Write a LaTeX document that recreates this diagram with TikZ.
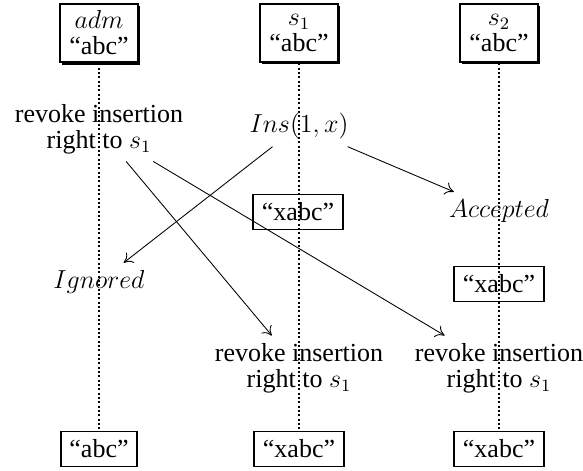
\documentclass[tikz,border=0pt]{standalone}
\usepackage{fontspec}
\setmainfont{Liberation Serif}
\usetikzlibrary{arrows.meta, shadows}

\begin{document}
\begin{tikzpicture}[
        ->,
        >={To[length=4pt, width=6pt]},
        font={\fontsize{12}{12}\selectfont},
        site/.style={draw, line width=0.9pt, fill=white, align=center,
            minimum width=36pt, minimum height=27pt, inner xsep=4pt,
            drop shadow={shadow xshift=1pt, shadow yshift=-1pt, opacity=1, fill=black}},
        doc/.style={draw, line width=0.7pt, minimum height=16pt, inner xsep=4pt},
        msg/.style={align=center},
        life/.style={-, line width=0.9pt, dash pattern=on 0.9pt off 1.1pt},
        yscale=-1,
        x=0.4615pt,
        y=0.4615pt
    ]
    \useasboundingbox (0,0) rectangle (583,470);

    % sites
    \node[site] (adm) at (99,33) {$adm$\\``abc''};
    \node[site] (sA) at (299,33) {$s_1$\\``abc''};
    \node[site] (sB) at (499,33) {$s_2$\\``abc''};

    % final states
    \node[doc] (admEnd) at (99,449) {``abc''};
    \node[doc] (sAEnd) at (299,449) {``xabc''};
    \node[doc] (sBEnd) at (499,449) {``xabc''};

    \draw[life] (adm.south) -- (admEnd.north);
    \draw[life] (sA.south) -- (sAEnd.north);
    \draw[life] (sB.south) -- (sBEnd.north);

    % operations
    \node[msg] (revAdm) at (99,129) {revoke insertion\\right to $s_1$};
    \node (ins) at (299,126) {$Ins(1,x)$};
    \node[doc] (xabcA) at (298,212) {``xabc''};
    \node (acc) at (499,211) {$Accepted$};
    \node (ign) at (99,282) {$Ignored$};
    \node[doc] (xabcB) at (499,284) {``xabc''};
    \node[msg] (revA) at (299,368) {revoke insertion\\right to $s_1$};
    \node[msg] (revB) at (499,368) {revoke insertion\\right to $s_1$};

    \draw (ins) -- (ign);
    \draw (ins) -- (acc);
    \draw (revAdm) -- (revA);
    \draw (revAdm) -- (revB);
\end{tikzpicture}
\end{document}
